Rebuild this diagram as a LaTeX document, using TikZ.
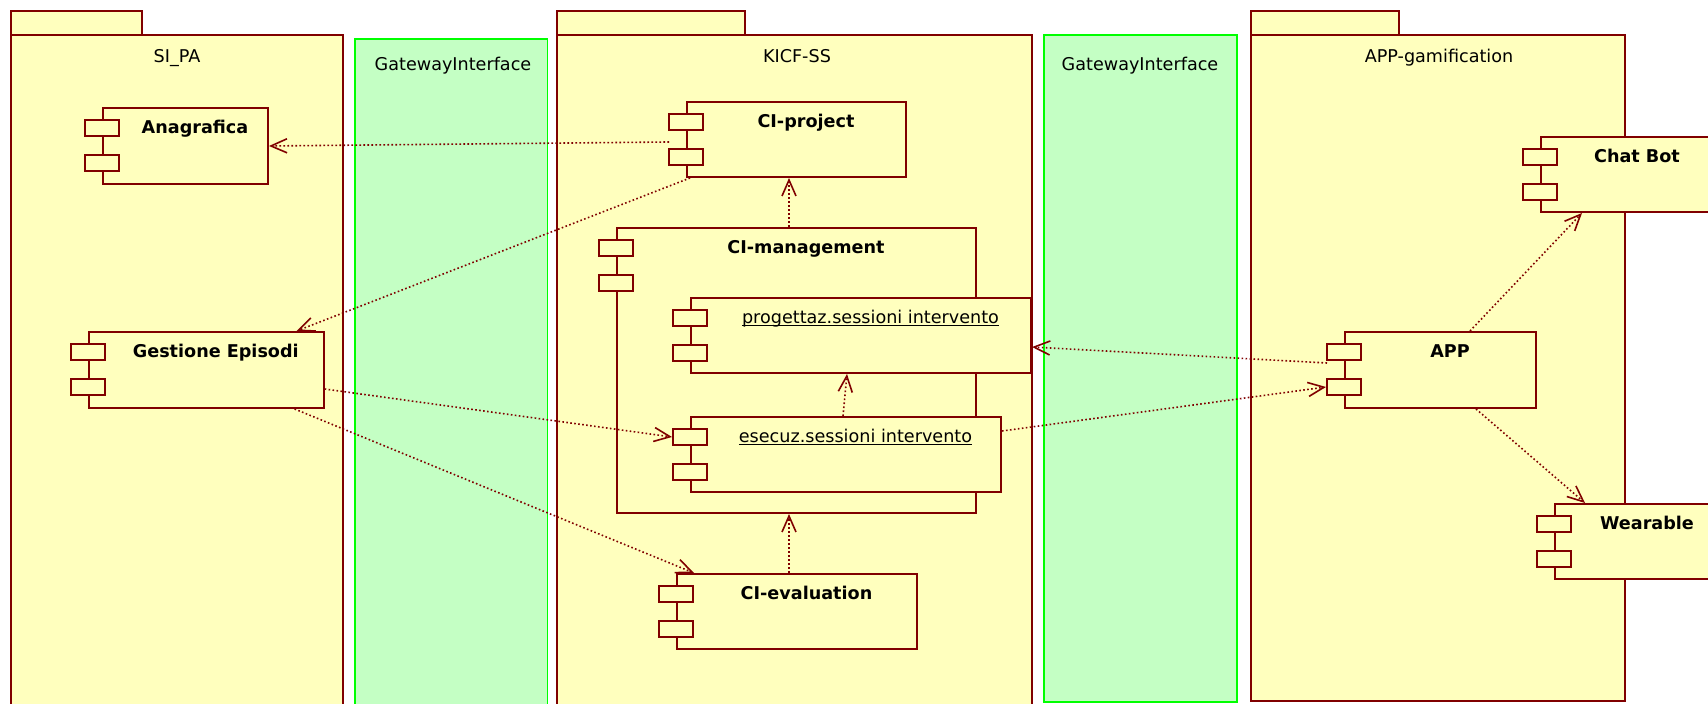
\documentclass[tikz,border=0pt]{standalone}
\usepackage{fontspec}
\setmainfont{DejaVu Sans}
\usepackage{tikz}
\usetikzlibrary{arrows.meta}
\definecolor{umlred}{RGB}{128,0,0}
\definecolor{umlyellow}{RGB}{255,255,190}
\definecolor{gwgreen}{RGB}{196,255,196}
\definecolor{gwline}{RGB}{0,255,0}
\newcommand{\instname}[1]{\setbox0\hbox{#1}\rlap{\rule[-1.3pt]{\wd0}{0.45pt}}\box0}

\begin{document}
\begin{tikzpicture}[x=0.5pt,y=-0.5pt]
            \tikzset{
            pkg/.style={draw=umlred,fill=umlyellow,line width=1pt},
            gw/.style={draw=gwline,fill=gwgreen,line width=0.9pt},
            comp/.style={rectangle,draw=umlred,fill=umlyellow,line width=1pt,inner sep=0},
            port/.style={rectangle,draw=umlred,fill=umlyellow,line width=1pt,inner sep=0,minimum width=17pt,minimum height=8pt},
            pkg label/.style={anchor=base,inner sep=0,font=\fontsize{8.8}{10}\selectfont},
            comp label/.style={anchor=base,inner sep=0,font=\fontsize{8.8}{10}\selectfont\bfseries},
            inst label/.style={anchor=base,inner sep=0,font=\fontsize{8.8}{10}\selectfont},
            dep/.style={color=umlred,line width=0.8pt,dash pattern=on 0.8pt off 1.2pt,-{Straight Barb[length=8pt,width=7pt]}}
            }
            \useasboundingbox (0,0) rectangle (1708,704);
            \clip (0,0) rectangle (1708,704);

            % packages and gateways
            \draw[pkg] (10.7,11) rectangle (141.8,35);
            \draw[pkg] (10.7,35) rectangle (342.9,720);
            \draw[gw] (354.6,38.7) rectangle (547.5,720);
            \draw[pkg] (557,11) rectangle (745,35);
            \draw[pkg] (557,35) rectangle (1032,720);
            \draw[gw] (1044,35) rectangle (1237,702);
            \draw[pkg] (1251,11) rectangle (1399,35);
            \draw[pkg] (1251,35) rectangle (1625,701);
            \node[pkg label] (sipa) at (177,63) {SI\_PA};
            \node[pkg label] (gw1) at (453,71) {GatewayInterface};
            \node[pkg label] (kicf) at (797,63) {KICF-SS};
            \node[pkg label] (gw2) at (1140,71) {GatewayInterface};
            \node[pkg label] (gamif) at (1439,63) {APP-gamification};

            % components
            \node[comp,minimum width=82.5pt,minimum height=38pt] (anag) at (185.5,146) {};
            \node[port] (anag p1) at ([yshift=-10.5pt]anag.north west) {};
            \node[port] (anag p2) at ([yshift=-28pt]anag.north west) {};
            \node[comp label] (anag l) at ([xshift=4.75pt,yshift=-13.25pt]anag.north) {Anagrafica};

            \node[comp,minimum width=117.3pt,minimum height=38pt] (gest) at (206.3,370) {};
            \node[port] (gest p1) at ([yshift=-10.5pt]gest.north west) {};
            \node[port] (gest p2) at ([yshift=-28pt]gest.north west) {};
            \node[comp label] (gest l) at ([xshift=4.75pt,yshift=-13.25pt]gest.north) {Gestione Episodi};

            \node[comp,minimum width=109.5pt,minimum height=37.5pt] (cip) at (796.5,139.5) {};
            \node[port] (cip p1) at ([yshift=-10.5pt]cip.north west) {};
            \node[port] (cip p2) at ([yshift=-28pt]cip.north west) {};
            \node[comp label] (cip l) at ([xshift=4.75pt,yshift=-13.25pt]cip.north) {CI-project};

            \node[comp,minimum width=179.5pt,minimum height=142.5pt] (cimg) at (796.5,370.5) {};
            \node[port] (cimg p1) at ([yshift=-10.5pt]cimg.north west) {};
            \node[port] (cimg p2) at ([yshift=-28pt]cimg.north west) {};
            \node[comp label] (cimg l) at ([xshift=4.75pt,yshift=-13.25pt]cimg.north) {CI-management};

            \node[comp,minimum width=170pt,minimum height=37.5pt] (prog) at (861,335.5) {};
            \node[port] (prog p1) at ([yshift=-10.5pt]prog.north west) {};
            \node[port] (prog p2) at ([yshift=-28pt]prog.north west) {};
            \node[inst label] (prog l) at ([xshift=4.75pt,yshift=-13.25pt]prog.north) {\instname{progettaz.sessioni intervento}};

            \node[comp,minimum width=155pt,minimum height=37.5pt] (esec) at (846,454.5) {};
            \node[port] (esec p1) at ([yshift=-10.5pt]esec.north west) {};
            \node[port] (esec p2) at ([yshift=-28pt]esec.north west) {};
            \node[inst label] (esec l) at ([xshift=4.75pt,yshift=-13.25pt]esec.north) {\instname{esecuz.sessioni intervento}};

            \node[comp,minimum width=120pt,minimum height=37.5pt] (ceval) at (797,611.5) {};
            \node[port] (ceval p1) at ([yshift=-10.5pt]ceval.north west) {};
            \node[port] (ceval p2) at ([yshift=-28pt]ceval.north west) {};
            \node[comp label] (ceval l) at ([xshift=4.75pt,yshift=-13.25pt]ceval.north) {CI-evaluation};

            \node[comp,minimum width=86.5pt,minimum height=37.5pt] (chat) at (1627.5,174.5) {};
            \node[port] (chat p1) at ([yshift=-10.5pt]chat.north west) {};
            \node[port] (chat p2) at ([yshift=-28pt]chat.north west) {};
            \node[comp label] (chat l) at ([xshift=4.75pt,yshift=-13.25pt]chat.north) {Chat Bot};

            \node[comp,minimum width=95.5pt,minimum height=38pt] (app) at (1440.5,370) {};
            \node[port] (app p1) at ([yshift=-10.5pt]app.north west) {};
            \node[port] (app p2) at ([yshift=-28pt]app.north west) {};
            \node[comp label] (app l) at ([xshift=4.75pt,yshift=-13.25pt]app.north) {APP};

            \node[comp,minimum width=82.5pt,minimum height=37.5pt] (wear) at (1637.5,541.5) {};
            \node[port] (wear p1) at ([yshift=-10.5pt]wear.north west) {};
            \node[port] (wear p2) at ([yshift=-28pt]wear.north west) {};
            \node[comp label] (wear l) at ([xshift=4.75pt,yshift=-13.25pt]wear.north) {Wearable};

            % dependencies
            \path[dep]
            ([xshift=-8.5pt,yshift=-1.25pt]cip.west) edge (anag.east)
            ([xshift=2pt]cip.south west) edge ([xshift=-14pt]gest.north east)
            ([xshift=-3.75pt]cimg.north) edge ([xshift=-3.75pt]cip.south)
            ([xshift=-1.5pt]esec.north) edge ([xshift=-7pt]prog.south)
            ([xshift=-4pt]ceval.north) edge ([xshift=-3.75pt]cimg.south)
            ([yshift=-9.5pt]gest.east) edge (esec p1.west)
            ([xshift=-15pt]gest.south east) edge ([xshift=9pt]ceval.north west)
            ([xshift=-8.5pt,yshift=3.5pt]app.west) edge ([yshift=-5.75pt]prog.east)
            ([yshift=-7.5pt]esec.north east) edge (app p2.west)
            ([xshift=14.75pt]app.north) edge ([xshift=21pt]chat.south west)
            ([xshift=17.75pt]app.south) edge ([xshift=15.5pt]wear.north west)
            ;
        \end{tikzpicture}
\end{document}
